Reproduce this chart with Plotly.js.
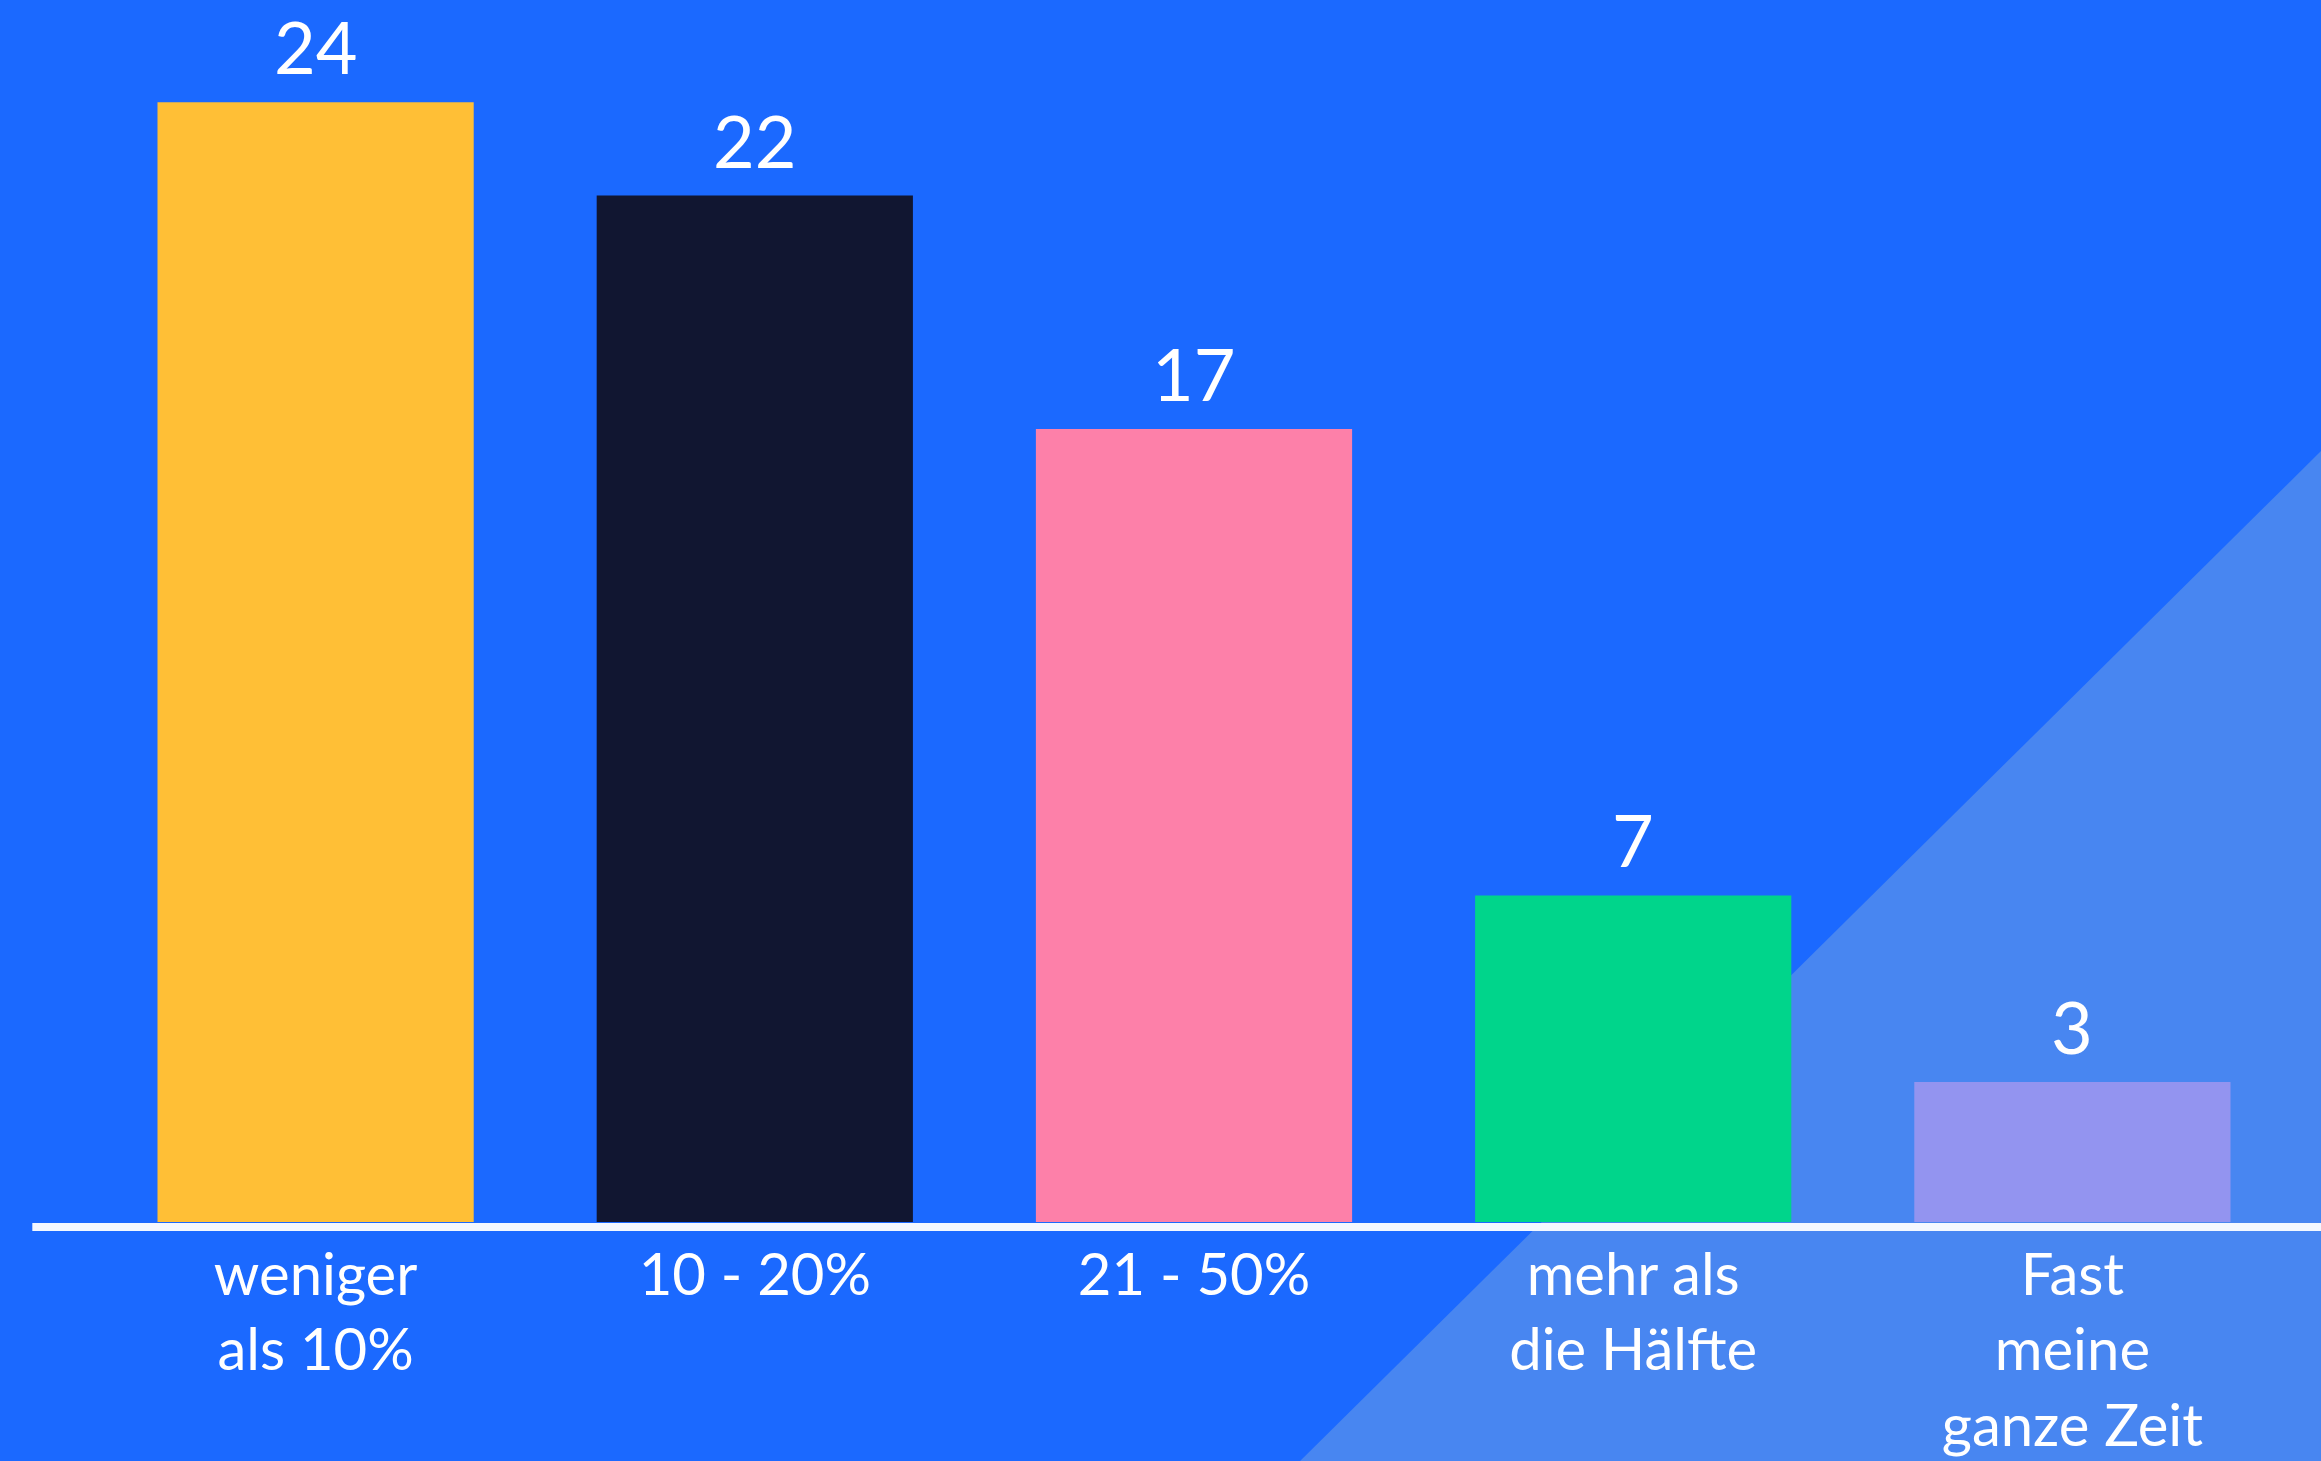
<!DOCTYPE html>
<html>
<head>
<meta charset="utf-8">
<script src="https://cdn.plot.ly/plotly-3.0.1.min.js"></script>
<style>
html,body{margin:0;padding:0;background:#1b69ff;}
#chart{width:2321px;height:1461px;}
</style>
</head>
<body>
<div id="chart"></div>
<script>
// Data
const categories = ['weniger<br>als 10%', '10 - 20%', '21 - 50%', 'mehr als<br>die Hälfte', 'Fast<br>meine<br>ganze Zeit'];
const values = [24, 22, 17, 7, 3];
const barColors = ['#ffbf36', '#111631', '#fd80a9', '#00d58b', '#9394f0'];

const FONT = 'Lato, "Open Sans", sans-serif';

const trace = {
  type: 'bar',
  x: categories,
  y: values,
  marker: {color: barColors, line: {width: 0}},
  hoverinfo: 'skip',
  showlegend: false
};

const annotations = categories.map((c, i) => ({
  x: c, y: values[i], xref: 'x', yref: 'y',
  text: String(values[i]),
  showarrow: false,
  yanchor: 'bottom',
  yshift: 11,
  font: {family: FONT, size: 72, color: '#ffffff'}
}));

const layout = {
  width: 2321,
  height: 1461,
  margin: {l: 96, r: 29, t: 9, b: 239},
  paper_bgcolor: '#1b69ff',
  plot_bgcolor: 'rgba(0,0,0,0)',
  bargap: 0.28,
  xaxis: {
    type: 'category',
    range: [-0.5, 4.5],
    showgrid: false, zeroline: false, showline: false,
    ticks: '',
    ticklabelstandoff: 14,
    tickfont: {family: FONT, size: 58, color: '#ffffff'},
    fixedrange: true
  },
  yaxis: {
    range: [0, 26],
    visible: false,
    showgrid: false, zeroline: false,
    fixedrange: true
  },
  shapes: [
    {
      type: 'path', xref: 'paper', yref: 'paper', layer: 'below',
      path: 'M 0.5483 -0.197 L 1.0132 0.6356 L 1.0132 -0.197 Z',
      fillcolor: '#4886f1', line: {width: 0}
    },
    {
      type: 'rect', xref: 'paper', yref: 'paper', layer: 'above',
      x0: -0.029, x1: 1.02,
      ysizemode: 'pixel', yanchor: 0, y0: -9, y1: -1,
      fillcolor: '#f4f8ff', line: {width: 0}
    }
  ],
  annotations: annotations,
  font: {family: FONT, color: '#ffffff'}
};

Plotly.newPlot('chart', [trace], layout, {displayModeBar: false, staticPlot: true});
</script>
</body>
</html>
